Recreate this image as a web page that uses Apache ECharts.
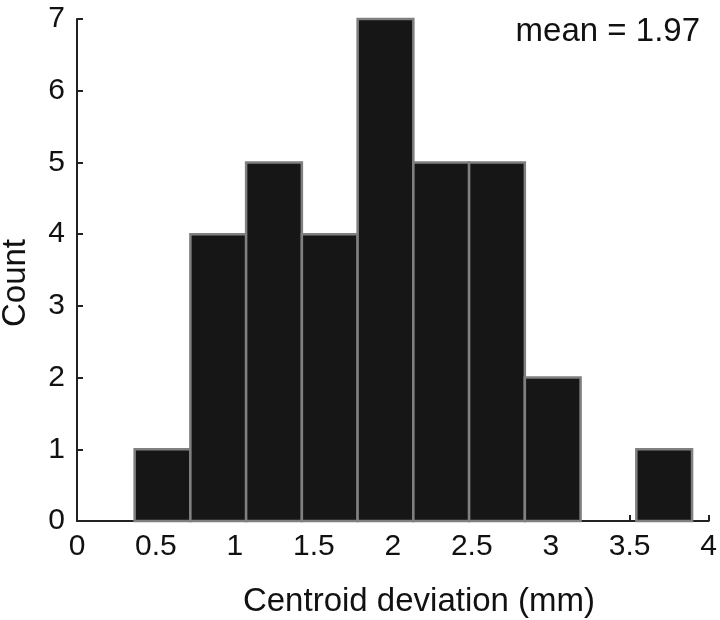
<!DOCTYPE html>
<html>
<head>
<meta charset="utf-8">
<script src="https://cdn.jsdelivr.net/npm/echarts@6/dist/echarts.min.js"></script>
<style>
html,body{margin:0;padding:0;background:#fff;}
#c{width:720px;height:620px;}
</style>
</head>
<body>
<div id="c"></div>
<script>
const binEdges = [0.365, 0.718, 1.071, 1.424, 1.777, 2.130, 2.483, 2.836, 3.189, 3.542, 3.895];
const counts = [1, 4, 5, 4, 7, 5, 5, 2, 0, 1];
const xTicks = [0, 0.5, 1, 1.5, 2, 2.5, 3, 3.5, 4];
const yTicks = [0, 1, 2, 3, 4, 5, 6, 7];
const meanText = 'mean = 1.97';
const xTitle = 'Centroid deviation (mm)';
const yTitle = 'Count';

const FONT = '"Liberation Sans", Arial, sans-serif';
const rows = counts.map((c, i) => [binEdges[i], binEdges[i + 1], c]);

const chart = echarts.init(document.getElementById('c'), null, {renderer: 'canvas'});
chart.setOption({
  animation: false,
  backgroundColor: '#fff',
  grid: {left: 77, right: 8, top: 19, bottom: 99, containLabel: false},
  xAxis: {
    type: 'value',
    min: xTicks[0], max: xTicks[xTicks.length - 1], interval: 0.5,
    axisLine: {lineStyle: {color: '#222', width: 2}},
    axisTick: {inside: true, length: 6, lineStyle: {color: '#222', width: 2}},
    axisLabel: {color: '#111', fontSize: 30, fontFamily: FONT, margin: 11},
    splitLine: {show: false}
  },
  yAxis: {
    type: 'value',
    min: yTicks[0], max: yTicks[yTicks.length - 1], interval: 1,
    axisLine: {show: true, lineStyle: {color: '#222', width: 2}},
    axisTick: {show: true, inside: true, length: 6, lineStyle: {color: '#222', width: 2}},
    axisLabel: {color: '#111', fontSize: 30, fontFamily: FONT, margin: 12},
    splitLine: {show: false}
  },
  series: [{
    type: 'custom',
    data: rows,
    encode: {x: [0, 1], y: 2},
    renderItem: function (params, api) {
      const c = api.value(2);
      if (!c) return null;
      const p0 = api.coord([api.value(0), c]);
      const p1 = api.coord([api.value(1), 0]);
      return {
        type: 'rect',
        shape: {x: p0[0], y: p0[1], width: p1[0] - p0[0], height: p1[1] - p0[1]},
        style: {fill: '#161616', stroke: '#808080', lineWidth: 2.5}
      };
    }
  }],
  graphic: [
    {type: 'text', x: 700, y: 32,
     style: {text: meanText, fill: '#111', fontSize: 33, fontFamily: FONT, textAlign: 'right', textVerticalAlign: 'middle'}},
    {type: 'text', x: 419, y: 602,
     style: {text: xTitle, fill: '#111', fontSize: 33, fontFamily: FONT, textAlign: 'center', textVerticalAlign: 'middle'}},
    {type: 'text', x: 16, y: 283, rotation: Math.PI / 2,
     style: {text: yTitle, fill: '#111', fontSize: 33, fontFamily: FONT, textAlign: 'center', textVerticalAlign: 'middle'}}
  ]
});
</script>
</body>
</html>
